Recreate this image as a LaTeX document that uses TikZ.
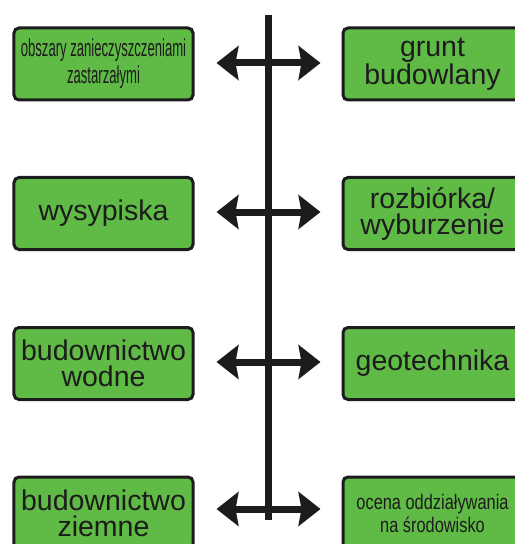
\documentclass[tikz,border=0pt]{standalone}
\usepackage{fontspec}
\setmainfont{Liberation Sans}
\usetikzlibrary{arrows.meta}
\definecolor{boxgreen}{RGB}{96,186,70}
\definecolor{boxline}{RGB}{28,28,28}
\begin{document}
\begin{tikzpicture}[x=1bp,y=-1bp,
  box/.style={draw=boxline, fill=boxgreen, line width=3bp, rounded corners=5bp,
    minimum width=179bp, minimum height=72bp, inner sep=0pt, align=center,
    font=\fontsize{28.5bp}{26bp}\selectfont, text=boxline},
  smallbox/.style={box, font=\fontsize{24.5bp}{27bp}\selectfont},
  tinybox/.style={box, font=\fontsize{21bp}{23bp}\selectfont},
  arr/.style={draw=boxline, line width=7bp, {Stealth[length=22bp,width=34bp,inset=3bp]}-{Stealth[length=22bp,width=34bp,inset=3bp]}},
  spine/.style={draw=boxline, line width=7bp}]
\useasboundingbox (0,0) rectangle (515,544);
\clip (0,0) rectangle (515,544);
% left column
\node[smallbox] (L1) at (103.5,64) {\scalebox{0.535}[1]{obszary zanieczyszczeniami}\\\scalebox{0.535}[1]{zastarzałymi}};
\node[box] (L2) at (103.5,213.5) {wysypiska};
\node[box] (L3) at (103.5,363.5) {budownictwo\\wodne};
\node[box] (L4) at (103.5,513) {budownictwo\\ziemne};
% right column
\node[box] (R1) at (432.5,64) {grunt\\budowlany};
\node[box] (R2) at (432.5,213.5) {rozbiórka/\\wyburzenie};
\node[box] (R3) at (432.5,363.5) {geotechnika};
\node[tinybox] (R4) at (432.5,513) {\scalebox{0.78}[1]{ocena oddziaływania}\\\scalebox{0.78}[1]{na środowisko}};
% spine
\coordinate (vtop) at (268,15);
\coordinate (vbot) at (268,520);
\draw[spine] (vtop) -- (vbot);
% arrows
\draw[arr, shorten <=22bp, shorten >=21bp] ([yshift=1bp]L1.east) -- ([yshift=1bp]R1.west);
\draw[arr, shorten <=22bp, shorten >=21bp] ([yshift=1.5bp]L2.east) -- ([yshift=1.5bp]R2.west);
\draw[arr, shorten <=22bp, shorten >=21bp] ([yshift=1.5bp]L3.east) -- ([yshift=1.5bp]R3.west);
\draw[arr, shorten <=22bp, shorten >=21bp] ([yshift=4bp]L4.east) -- ([yshift=4bp]R4.west);
\end{tikzpicture}
\end{document}
